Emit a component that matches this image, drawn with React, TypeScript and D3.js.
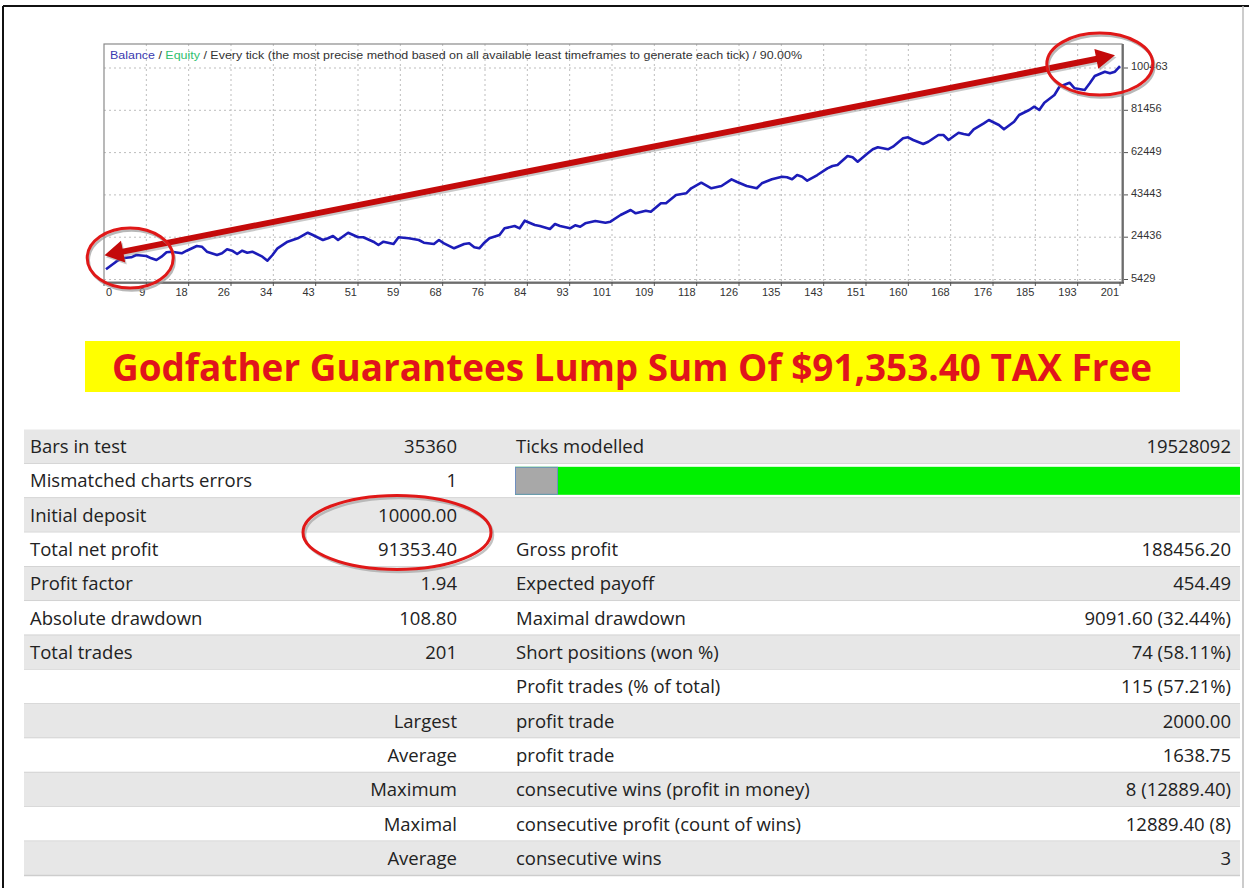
import * as d3 from "d3";

// balance curve (trade number -> balance)
const trades = [
  0, 2, 3, 5, 6, 8, 9, 10, 11, 12, 13, 15, 16, 18, 19, 20, 22, 23, 24, 25, 26, 27, 28, 29, 31, 32, 33, 34, 36, 38,
  40, 41, 43, 44, 45, 46, 48, 50, 51, 53, 54, 55, 57, 58, 60, 62, 63, 65, 66, 67, 69, 71, 72, 73, 74, 75, 76, 78,
  79, 81, 82, 83, 85, 86, 88, 89, 90, 92, 93, 94, 95, 97, 99, 100, 102, 104, 105, 107, 108, 110, 111, 113, 115,
  116, 118, 120, 122, 124, 125, 127, 129, 130, 132, 134, 135, 136, 137, 138, 139, 141, 143, 144, 145, 147, 148,
  149, 151, 152, 153, 155, 156, 158, 159, 160, 162, 163, 165, 166, 167, 169, 170, 171, 172, 174, 175, 177, 178,
  180, 181, 183, 184, 185, 186, 188, 189, 191, 192, 194, 195, 196, 198, 199, 200, 201,
];
const balance = [
  10000, 13430, 14950, 15400, 16440, 15990, 14950, 14190, 15670, 17650, 17920, 17200, 18370, 20480, 20170, 17920,
  16440, 17200, 19000, 18370, 16890, 18370, 17470, 17920, 15670, 13880, 16440, 19450, 22410, 23940, 26460, 25420,
  23180, 23940, 24970, 23180, 26460, 24390, 24390, 22410, 20930, 22410, 21380, 24390, 23940, 23180, 21960, 21380,
  23180, 21690, 19450, 21380, 21690, 19900, 19450, 21960, 23940, 25420, 28430, 29470, 28430, 31850, 29920, 29470,
  28120, 30370, 29470, 28430, 29780, 29150, 30680, 31710, 30950, 31400, 34410, 36660, 35170, 36340, 35890, 39670,
  39670, 43400, 44160, 46410, 48920, 46410, 47440, 50450, 49370, 47440, 46410, 48650, 50450, 51620, 51350, 50450,
  52380, 51620, 49820, 52380, 55390, 56430, 56870, 60920, 60330, 58360, 62130, 63930, 64830, 63930, 65100, 68870,
  69320, 68110, 66310, 67340, 70350, 70350, 68110, 71390, 70800, 70350, 72910, 75610, 77090, 74850, 72910, 76330,
  79340, 81590, 83070, 81590, 84870, 88330, 92050, 93850, 91340, 90570, 93580, 96860, 98790, 98080, 98790, 101353,
];

const xTickLabels = [0, 9, 18, 26, 34, 43, 51, 59, 68, 76, 84, 93, 101, 109, 118, 126, 135, 143, 151, 160, 168, 176, 185, 193, 201];
const yTickLabels = [5429, 24436, 43443, 62449, 81456, 100463];

const legendParts = ["Balance", " / ", "Equity", " / Every tick (the most precise method based on all available least timeframes to generate each tick) / 90.00%"];

const title = "Godfather Guarantees Lump Sum Of $91,353.40 TAX Free";

// report table
const leftLabels = [
  "Bars in test", "Mismatched charts errors", "Initial deposit", "Total net profit", "Profit factor",
  "Absolute drawdown", "Total trades", "", "", "", "", "", "",
];
const leftValues = ["35360", "1", "10000.00", "91353.40", "1.94", "108.80", "201", "", "Largest", "Average", "Maximum", "Maximal", "Average"];
const rightLabels = [
  "Ticks modelled", "", "", "Gross profit", "Expected payoff", "Maximal drawdown", "Short positions (won %)",
  "Profit trades (% of total)", "profit trade", "profit trade", "consecutive wins (profit in money)",
  "consecutive profit (count of wins)", "consecutive wins",
];
const rightValues = ["19528092", "", "", "188456.20", "454.49", "9091.60 (32.44%)", "74 (58.11%)", "115 (57.21%)", "2000.00", "1638.75", "8 (12889.40)", "12889.40 (8)", "3"];

// annotations in chart units: [trade, balance]
const arrowFrom = [-0.3, 16300];
const arrowTo = [200, 106200];
const circleStart = [4.8, 15090];
const circleEnd = [197, 102250];

const W = 1249;
const H = 888;
const plot = { l: 104, r: 1122, t: 44, b: 282 };
const RED = "#c40a0a";

function arrowHead(tip, from, len, half) {
  const dx = tip[0] - from[0];
  const dy = tip[1] - from[1];
  const d = Math.hypot(dx, dy);
  const ux = dx / d;
  const uy = dy / d;
  const bx = tip[0] - ux * len;
  const by = tip[1] - uy * len;
  return `M${tip[0]},${tip[1]}L${bx - uy * half},${by + ux * half}L${bx + uy * half},${by - ux * half}Z`;
}

export default function App() {
  const x = d3.scaleLinear().domain([0, 201]).range([106, 1120]);
  const y = d3.scaleLinear().domain([5429, 100463]).range([279.5, 68]);
  const xTick = d3.scalePoint().domain(xTickLabels.map(String)).range([plot.l, 1120]);
  const rows = d3.scaleBand().domain(d3.range(leftLabels.length)).range([429.5, 875.5]);

  const pts = trades.map((t, i) => [t, balance[i]]);
  const path = d3.line().x((d) => x(d[0])).y((d) => y(d[1]))(pts);

  const a0 = [x(arrowFrom[0]), y(arrowFrom[1])];
  const a1 = [x(arrowTo[0]), y(arrowTo[1])];
  const shaft = `M${a0[0] + 12},${a0[1] - 2.4}L${a1[0] - 14},${a1[1] + 2.8}`;
  const heads = arrowHead(a0, a1, 19, 11) + arrowHead(a1, a0, 19, 10);

  const legendColors = ["#3a3ab0", "#333", "#2fbf6f", "#333"];
  const chartFont = "'Liberation Sans', Arial, sans-serif";
  const tableFont = "'Open Sans', 'Noto Sans', sans-serif";

  const colValueR = 457;
  const col2Left = 516;
  const col2Right = 1231;
  const ellipseY = rows(3);

  return (
    <svg width={W} height={H} style={{ position: "absolute", left: 0, top: 0, background: "#fff" }}>
      {/* outer frame */}
      <rect x={0} y={0} width={W} height={H} fill="#fff" />
      <line x1={3} y1={6} x2={W} y2={6} stroke="#111" strokeWidth={2} />
      <line x1={3} y1={6} x2={3} y2={H} stroke="#111" strokeWidth={2} />
      <line x1={1243} y1={6} x2={1243} y2={H} stroke="#bbb" strokeWidth={1.5} />

      {/* chart */}
      <g>
        {xTickLabels.slice(1, -1).map((d) => (
          <line key={"gx" + d} x1={xTick(String(d))} x2={xTick(String(d))} y1={plot.t} y2={plot.b} stroke="#bdbdbd" strokeDasharray="2,3" />
        ))}
        {yTickLabels.map((d) => (
          <line key={"gy" + d} x1={plot.l} x2={plot.r} y1={y(d)} y2={y(d)} stroke="#bdbdbd" strokeDasharray="2,3" />
        ))}
        <rect x={plot.l} y={plot.t} width={plot.r - plot.l} height={plot.b - plot.t} fill="none" stroke="#8a8a8a" strokeWidth={1.2} />
        <line x1={plot.r + 1} x2={plot.r + 1} y1={plot.t} y2={plot.b + 1} stroke="#555" strokeWidth={1.5} />
        <line x1={plot.l} x2={plot.r + 2} y1={plot.b + 1} y2={plot.b + 1} stroke="#555" strokeWidth={1.5} />
        {xTickLabels.map((d, i) => (
          <g key={"tx" + d}>
            <line x1={xTick(String(d))} x2={xTick(String(d))} y1={plot.b} y2={plot.b + 4} stroke="#555" />
            <text
              x={i === 0 ? xTick(String(d)) + 2 : xTick(String(d)) - 1}
              y={plot.b + 14}
              textAnchor={i === 0 ? "start" : "end"}
              fontFamily={chartFont}
              fontSize={11}
              fill="#333"
            >
              {d}
            </text>
          </g>
        ))}
        {yTickLabels.map((d) => (
          <g key={"ty" + d}>
            <line x1={plot.r + 2} x2={plot.r + 6} y1={y(d)} y2={y(d)} stroke="#555" />
            <text x={plot.r + 9} y={y(d) + 2} fontFamily={chartFont} fontSize={11} fill="#333">
              {d}
            </text>
          </g>
        ))}
        <text x={110} y={59} fontFamily={chartFont} fontSize={11} textLength={692} lengthAdjust="spacingAndGlyphs">
          {legendParts.map((p, i) => (
            <tspan key={i} fill={legendColors[i]}>
              {p}
            </tspan>
          ))}
        </text>
        <path d={path} fill="none" stroke="#1c1cb8" strokeWidth={2.6} strokeLinejoin="round" />
      </g>

      {/* red annotations on the chart */}
      <g transform="translate(1.5,2)" opacity={0.45}>
        <path d={shaft} stroke="#888" strokeWidth={6} />
        <path d={heads} fill="#888" />
      </g>
      <path d={shaft} stroke={RED} strokeWidth={6} />
      <path d={heads} fill={RED} />
      {[
        [circleStart, 43, 30],
        [circleEnd, 53, 31],
      ].map(([c, rx, ry], i) => (
        <g key={"c" + i}>
          <ellipse cx={x(c[0]) + 1.5} cy={y(c[1]) + 2.5} rx={rx} ry={ry} fill="none" stroke="#9a9a9a" strokeWidth={2.5} opacity={0.7} />
          <ellipse cx={x(c[0])} cy={y(c[1])} rx={rx} ry={ry} fill="none" stroke="#e01818" strokeWidth={3} />
        </g>
      ))}

      {/* banner */}
      <rect x={85} y={341} width={1095} height={51} fill="#ffff00" />
      <text
        x={632}
        y={381}
        textAnchor="middle"
        fontFamily="'Open Sans', sans-serif"
        fontWeight="bold"
        fontSize={38}
        fill="#e0141c"
        textLength={1040}
        lengthAdjust="spacingAndGlyphs"
      >
        {title}
      </text>

      {/* report table */}
      {leftLabels.map((_, i) => (
        <g key={"r" + i}>
          <rect x={24} y={rows(i)} width={1216} height={rows.bandwidth()} fill={i % 2 === 0 ? "#e7e7e7" : "#fff"} />
          <line x1={24} x2={1240} y1={rows(i) + rows.bandwidth()} y2={rows(i) + rows.bandwidth()} stroke="#cdcdcd" strokeWidth={1.5} />
        </g>
      ))}
      <rect x={515} y={rows(1) + 3} width={725} height={28} fill="#00f000" />
      <rect x={515.5} y={rows(1) + 3.5} width={42} height={27} fill="#a8a8a8" stroke="#6f8fc0" strokeWidth={1} />
      {leftLabels.map((d, i) => (
        <g key={"t" + i} fontFamily={tableFont} fontSize={18.5} fill="#222">
          <text x={30} y={rows(i) + rows.bandwidth() / 2 + 6.5}>{d}</text>
          <text x={colValueR} y={rows(i) + rows.bandwidth() / 2 + 6.5} textAnchor="end">{leftValues[i]}</text>
          <text x={col2Left} y={rows(i) + rows.bandwidth() / 2 + 6.5}>{rightLabels[i]}</text>
          <text x={col2Right} y={rows(i) + rows.bandwidth() / 2 + 6.5} textAnchor="end">{rightValues[i]}</text>
        </g>
      ))}
      <ellipse cx={399} cy={ellipseY + 2.5} rx={94} ry={37} fill="none" stroke="#9a9a9a" strokeWidth={2.5} opacity={0.6} />
      <ellipse cx={397} cy={ellipseY} rx={94} ry={37} fill="none" stroke="#e01818" strokeWidth={3} />
    </svg>
  );
}
